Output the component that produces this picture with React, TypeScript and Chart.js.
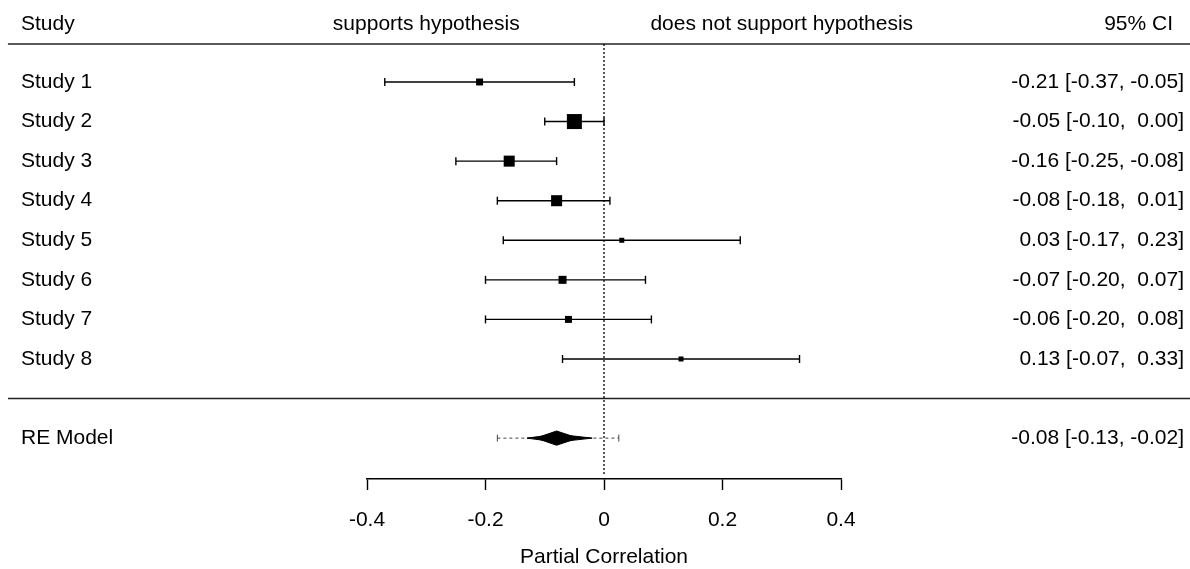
import { useEffect, useRef } from "react";
import { Chart, registerables } from "chart.js";

Chart.register(...registerables);

// ---- data ----
const studies = ["Study 1", "Study 2", "Study 3", "Study 4", "Study 5", "Study 6", "Study 7", "Study 8"];
const estimates = [-0.21, -0.05, -0.16, -0.08, 0.03, -0.07, -0.06, 0.13];
const ciLower = [-0.37, -0.1, -0.25, -0.18, -0.17, -0.2, -0.2, -0.07];
const ciUpper = [-0.05, 0.0, -0.08, 0.01, 0.23, 0.07, 0.08, 0.33];
const weights = [10.2, 21.9, 16.1, 16.1, 7.3, 11.7, 10.2, 7.3];

const modelLabel = "RE Model";
const modelEstimate = -0.08;
const modelLower = -0.13;
const modelUpper = -0.02;
const predLower = -0.18;
const predUpper = 0.025;

const xTicks = [-0.4, -0.2, 0, 0.2, 0.4];
const xTitle = "Partial Correlation";
const headerStudy = "Study";
const headerLeft = "supports hypothesis";
const headerRight = "does not support hypothesis";
const headerCI = "95% CI";

// ---- layout (rows in y-units) ----
const studyRows = studies.map((_, i) => 9 - i);
const modelRow = 0;
const separatorRow = 1;
const headerLineRow = 9.96;
const headerTextRow = 10.47;
const refTopRow = 9.96;
const refBottomRow = -0.91;
const Y_MIN = -1.033;
const Y_MAX = 11.072;
const LINE_X_START = -1.006;
const LINE_X_END = 1.0;

const FONT = '21px "Liberation Sans", Arial, sans-serif';

const fmt = (v: number) => (v < 0 ? v.toFixed(2) : " " + v.toFixed(2));
const ciText = (e: number, lo: number, hi: number) =>
  `${e.toFixed(2)} [${fmt(lo)}, ${fmt(hi)}]`;

const textPlugin = {
  id: "forestText",
  afterDatasetsDraw(chart: any) {
    const ctx = chart.ctx as CanvasRenderingContext2D;
    const x = chart.scales.x;
    const y = chart.scales.y;
    ctx.save();
    ctx.font = FONT;
    ctx.fillStyle = "#000";
    ctx.textBaseline = "middle";
    const leftX = 21;
    const rightX = 1184;

    const hy = y.getPixelForValue(headerTextRow);
    ctx.textAlign = "left";
    ctx.fillText(headerStudy, leftX, hy);
    ctx.textAlign = "center";
    ctx.fillText(headerLeft, x.getPixelForValue(-0.3), hy);
    ctx.fillText(headerRight, x.getPixelForValue(0.3), hy);
    ctx.textAlign = "right";
    ctx.fillText(headerCI, 1173, hy);

    studies.forEach((s, i) => {
      const py = y.getPixelForValue(studyRows[i]);
      ctx.textAlign = "left";
      ctx.fillText(s, leftX, py);
      ctx.textAlign = "right";
      ctx.fillText(ciText(estimates[i], ciLower[i], ciUpper[i]), rightX, py);
    });

    const my = y.getPixelForValue(modelRow);
    ctx.textAlign = "left";
    ctx.fillText(modelLabel, leftX, my);
    ctx.textAlign = "right";
    ctx.fillText(ciText(modelEstimate, modelLower, modelUpper), rightX, my);
    ctx.restore();
  },
};

export default function App() {
  const ref = useRef<HTMLCanvasElement | null>(null);

  useEffect(() => {
    if (!ref.current) return;
    const maxW = Math.max(...weights);
    const sideOf = (w: number) => (15 * w) / maxW;

    const datasets: any[] = [];

    // estimate squares
    datasets.push({
      type: "scatter",
      data: estimates.map((e, i) => ({ x: e, y: studyRows[i] })),
      pointStyle: "rect",
      pointRadius: weights.map((w) => sideOf(w) / Math.SQRT2),
      pointBackgroundColor: "#000",
      pointBorderWidth: 0,
      pointHoverRadius: weights.map((w) => sideOf(w) / Math.SQRT2),
      order: 0,
      clip: false,
    });

    // diamond (outer + inner)
    const outerH = 0.1;
    const innerH = 0.18;
    const innerLo = modelEstimate - 0.7 * (modelEstimate - modelLower);
    const innerHi = modelEstimate + 0.6 * (modelUpper - modelEstimate);
    const diamond = (lo: number, hi: number, h: number) => [
      { x: lo, y: modelRow },
      { x: modelEstimate, y: modelRow + h },
      { x: hi, y: modelRow },
      { x: modelEstimate, y: modelRow - h },
      { x: lo, y: modelRow },
    ];
    [
      [modelLower, modelUpper, outerH],
      [innerLo, innerHi, innerH],
    ].forEach(([lo, hi, h]) => {
      datasets.push({
        type: "scatter",
        showLine: true,
        data: diamond(lo, hi, h),
        borderColor: "#000",
        backgroundColor: "#000",
        borderWidth: 1,
        fill: "shape",
        pointRadius: 0,
        order: 1,
        clip: false,
      });
    });

    // prediction interval (dotted)
    datasets.push({
      type: "scatter",
      showLine: true,
      data: [
        { x: predLower, y: modelRow },
        { x: predUpper, y: modelRow },
      ],
      borderColor: "#444",
      borderWidth: 1,
      borderDash: [3, 3],
      pointStyle: "line",
      rotation: 90,
      pointRadius: 3.5,
      pointBorderWidth: 1,
      pointBorderColor: "#444",
      order: 2,
      clip: false,
    });

    // CI bars
    studies.forEach((_, i) => {
      datasets.push({
        type: "scatter",
        showLine: true,
        data: [
          { x: ciLower[i], y: studyRows[i] },
          { x: ciUpper[i], y: studyRows[i] },
        ],
        borderColor: "#000",
        borderWidth: 1.4,
        pointStyle: "line",
        rotation: 90,
        pointRadius: 4,
        pointBorderWidth: 1.4,
        pointBorderColor: "#000",
        order: 2,
        clip: false,
      });
    });

    // vertical reference line at 0
    datasets.push({
      type: "scatter",
      showLine: true,
      data: [
        { x: 0, y: refTopRow },
        { x: 0, y: refBottomRow },
      ],
      borderColor: "#000",
      borderWidth: 1.3,
      borderDash: [2, 2],
      pointRadius: 0,
      order: 3,
      clip: false,
    });

    // horizontal rules
    [headerLineRow, separatorRow].forEach((r) => {
      datasets.push({
        type: "scatter",
        showLine: true,
        data: [
          { x: LINE_X_START, y: r },
          { x: LINE_X_END, y: r },
        ],
        borderColor: "#222",
        borderWidth: 1.6,
        pointRadius: 0,
        order: 4,
        clip: false,
      });
    });

    const chart = new Chart(ref.current, {
      type: "scatter",
      data: { datasets },
      options: {
        responsive: false,
        animation: false,
        events: [],
        layout: { autoPadding: false, padding: { left: 367, right: 349, top: 0, bottom: 0 } },
        plugins: {
          legend: { display: false },
          tooltip: { enabled: false },
          title: { display: false },
        },
        scales: {
          x: {
            type: "linear",
            position: "bottom",
            min: xTicks[0],
            max: xTicks[xTicks.length - 1],
            afterBuildTicks: (scale: any) => {
              scale.ticks = xTicks.map((v) => ({ value: v }));
            },
            afterFit: (scale: any) => {
              scale.height = 90;
            },
            ticks: {
              color: "#000",
              font: { family: '"Liberation Sans", Arial, sans-serif', size: 21 },
              padding: 18,
              maxRotation: 0,
              autoSkip: false,
              callback: (v: any) => String(Number(v)),
            },
            grid: {
              drawOnChartArea: false,
              drawTicks: true,
              tickLength: 11,
              tickColor: "#000",
              tickWidth: 1.4,
            },
            border: { display: true, color: "#000", width: 1.4 },
            title: {
              display: true,
              text: xTitle,
              color: "#000",
              font: { family: '"Liberation Sans", Arial, sans-serif', size: 21 },
              padding: { top: 0, bottom: -1 },
            },
          },
          y: {
            type: "linear",
            display: false,
            min: Y_MIN,
            max: Y_MAX,
          },
        },
      },
      plugins: [textPlugin],
    });
    return () => chart.destroy();
  }, []);

  return (
    <div style={{ position: "fixed", left: 0, top: 0, width: 1190, height: 569, background: "#fff" }}>
      <canvas ref={ref} width={1190} height={569} style={{ display: "block" }} />
    </div>
  );
}
